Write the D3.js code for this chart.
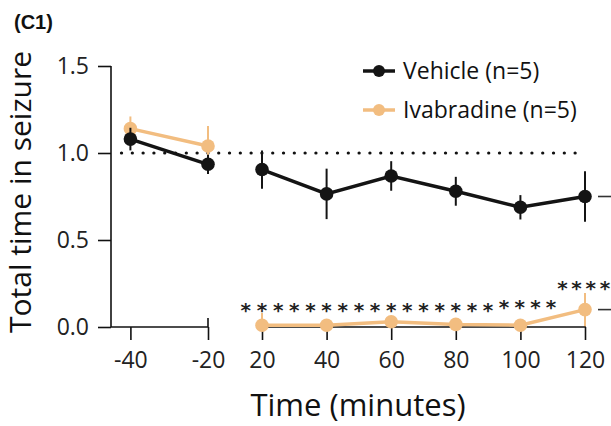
<!DOCTYPE html>
<html>
<head>
<meta charset="utf-8">
<script src="https://cdn.jsdelivr.net/npm/d3@7"></script>
<style>
html,body{margin:0;padding:0;background:#fff;}
svg{display:block;}
</style>
</head>
<body>
<svg id="chart" width="611" height="426"></svg>
<script>
// ---------- data ----------
const preTimes = [-40, -20];
const postTimes = [20, 40, 60, 80, 100, 120];
const vehicleMean = [1.08, 0.935, 0.905, 0.765, 0.868, 0.78, 0.688, 0.75];
const vehicleErr  = [0.065, 0.055, 0.11, 0.145, 0.085, 0.083, 0.07, 0.145];
const ivabMean = [1.14, 1.04, 0.01, 0.01, 0.03, 0.015, 0.01, 0.10];
const ivabErr  = [0.07, 0.115, 0.07, 0.01, 0.02, 0.01, 0.01, 0.095];
const yTicks = [0.0, 0.5, 1.0, 1.5];
const xTickLabels = ["-40", "-20", "20", "40", "60", "80", "100", "120"];
const seriesNames = ["Vehicle (n=5)", "Ivabradine (n=5)"];
const baselineValue = 1.0;
// significance stars: time positions and y level (data units)
const starTimesRow1 = [15, 20, 25, 30, 35, 40, 45, 50, 55, 60, 65, 70, 75, 80, 85, 90];
const starTimesRow1b = [94.9, 99.8, 104.7, 109.5];
const starTimesRow2 = [113, 117.4, 121.8, 126.2];
const starLevels = [0.127, 0.145, 0.254];

const allTimes = preTimes.concat(postTimes);
const colors = {vehicle: "#141414", ivab: "#f2bd80"};

const svg = d3.select("#chart");

// ---------- scales ----------
const y = d3.scaleLinear().domain([0, 1.5]).range([327, 66]);
const xPre = d3.scaleLinear().domain([-45, -20]).range([111, 208]);
const xPost = d3.scaleLinear().domain([20, 120]).range([262, 585]);
const xOf = t => t < 0 ? xPre(t) : xPost(t);

// ---------- axes ----------
const yAxisG = svg.append("g").attr("transform", `translate(${xPre(-45)},0)`)
  .call(d3.axisLeft(y).tickValues(yTicks).tickFormat(d3.format(".1f")).tickSize(13).tickPadding(9));
yAxisG.select(".domain").remove();
yAxisG.append("line").attr("x1", 0).attr("x2", 0).attr("y1", y(1.5)).attr("y2", y(0))
  .attr("stroke", "#111").attr("stroke-width", 1.6);

const xAxis1 = svg.append("g").attr("transform", `translate(0,${y(0)})`)
  .call(d3.axisBottom(xPre).tickValues(preTimes).tickSize(13).tickPadding(12).tickFormat((d,i)=>xTickLabels[i]));
const xAxis2 = svg.append("g").attr("transform", `translate(0,${y(0)})`)
  .call(d3.axisBottom(xPost).tickValues(postTimes).tickSize(13).tickPadding(12).tickFormat((d,i)=>xTickLabels[i+2]));
[xAxis1, xAxis2].forEach(g => g.select(".domain").remove());
svg.append("line").attr("x1", xPre(-45)).attr("x2", xPre(-20)).attr("y1", y(0)).attr("y2", y(0))
  .attr("stroke", "#111").attr("stroke-width", 1.6);
svg.append("line").attr("x1", xPost(20)).attr("x2", xPost(120)).attr("y1", y(0)).attr("y2", y(0))
  .attr("stroke", "#111").attr("stroke-width", 1.6);
// end caps
[xPre(-20), xPost(120)].forEach(xx => {
  svg.append("line").attr("x1", xx).attr("x2", xx).attr("y1", y(0) - 9).attr("y2", y(0))
    .attr("stroke", "#111").attr("stroke-width", 1.6);
});

svg.selectAll(".tick line").attr("stroke", "#111").attr("stroke-width", 1.6);
svg.selectAll(".tick text").attr("fill", "#222")
  .style("font-family", "'Open Sans', sans-serif").style("font-size", "23px");

// ---------- baseline dotted line ----------
svg.append("line")
  .attr("x1", xPre(-42.3)).attr("x2", xPost(119.5))
  .attr("y1", y(baselineValue)).attr("y2", y(baselineValue))
  .attr("stroke", "#111").attr("stroke-width", 3.2)
  .attr("stroke-linecap", "round")
  .attr("stroke-dasharray", "0.1 10.7");

// ---------- series ----------
function drawSeries(mean, err, color, lw) {
  const g = svg.append("g");
  const pts = allTimes.map((t, i) => ({t, v: mean[i], e: err[i]}));
  const line = d3.line().x(d => xOf(d.t)).y(d => y(d.v));
  g.append("path").datum(pts.slice(0, 2)).attr("d", line)
    .attr("fill", "none").attr("stroke", color).attr("stroke-width", lw);
  g.append("path").datum(pts.slice(2)).attr("d", line)
    .attr("fill", "none").attr("stroke", color).attr("stroke-width", lw);
  g.selectAll("line.err").data(pts).join("line").attr("class", "err")
    .attr("x1", d => xOf(d.t)).attr("x2", d => xOf(d.t))
    .attr("y1", d => y(d.v + d.e)).attr("y2", d => y(Math.max(0, d.v - d.e)))
    .attr("stroke", color).attr("stroke-width", 2);
  g.selectAll("circle").data(pts).join("circle")
    .attr("cx", d => xOf(d.t)).attr("cy", d => y(d.v)).attr("r", 6.8)
    .attr("fill", color);
}
drawSeries(ivabMean, ivabErr, colors.ivab, 3.5);
drawSeries(vehicleMean, vehicleErr, colors.vehicle, 3.5);

// ---------- right-side level marks ----------
[vehicleMean[7], ivabMean[7]].forEach(v => {
  svg.append("line").attr("x1", xPost(120) + 13).attr("x2", 611)
    .attr("y1", y(v)).attr("y2", y(v)).attr("stroke", "#333").attr("stroke-width", 1.6);
});

// ---------- stars ----------
function drawStars(times, level) {
  svg.append("g").selectAll("text").data(times).join("text")
    .attr("x", d => xPost(d)).attr("y", y(level) + 12)
    .attr("text-anchor", "middle")
    .style("font-family", "'DejaVu Sans', sans-serif").style("font-size", "20px")
    .style("font-weight", "bold")
    .attr("fill", "#222").text("*");
}
drawStars(starTimesRow1, starLevels[0]);
drawStars(starTimesRow1b, starLevels[1]);
drawStars(starTimesRow2, starLevels[2]);

// ---------- legend ----------
const legend = [
  {name: seriesNames[0], color: colors.vehicle, yy: 71},
  {name: seriesNames[1], color: colors.ivab, yy: 110}
];
legend.forEach(l => {
  svg.append("line").attr("x1", 363).attr("x2", 395).attr("y1", l.yy).attr("y2", l.yy)
    .attr("stroke", l.color).attr("stroke-width", 3.5);
  svg.append("circle").attr("cx", 379).attr("cy", l.yy).attr("r", 6).attr("fill", l.color);
  svg.append("text").attr("x", 403).attr("y", l.yy + 8)
    .style("font-family", "'Open Sans', sans-serif").style("font-size", "23px")
    .attr("fill", "#111").text(l.name);
});

// ---------- titles ----------
svg.append("text").attr("x", 14).attr("y", 29)
  .style("font-family", "'Liberation Sans', Arial, sans-serif").style("font-size", "20px")
  .style("font-weight", "bold").attr("fill", "#111").text("(C1)");

svg.append("text").attr("x", 358).attr("y", 416).attr("text-anchor", "middle")
  .style("font-family", "'Open Sans', sans-serif").style("font-size", "31px")
  .attr("fill", "#111").text("Time (minutes)");

svg.append("text").attr("transform", "translate(31,192) rotate(-90)").attr("text-anchor", "middle")
  .style("font-family", "'Open Sans', sans-serif").style("font-size", "30px")
  .attr("fill", "#111").text("Total time in seizure");
</script>
</body>
</html>
